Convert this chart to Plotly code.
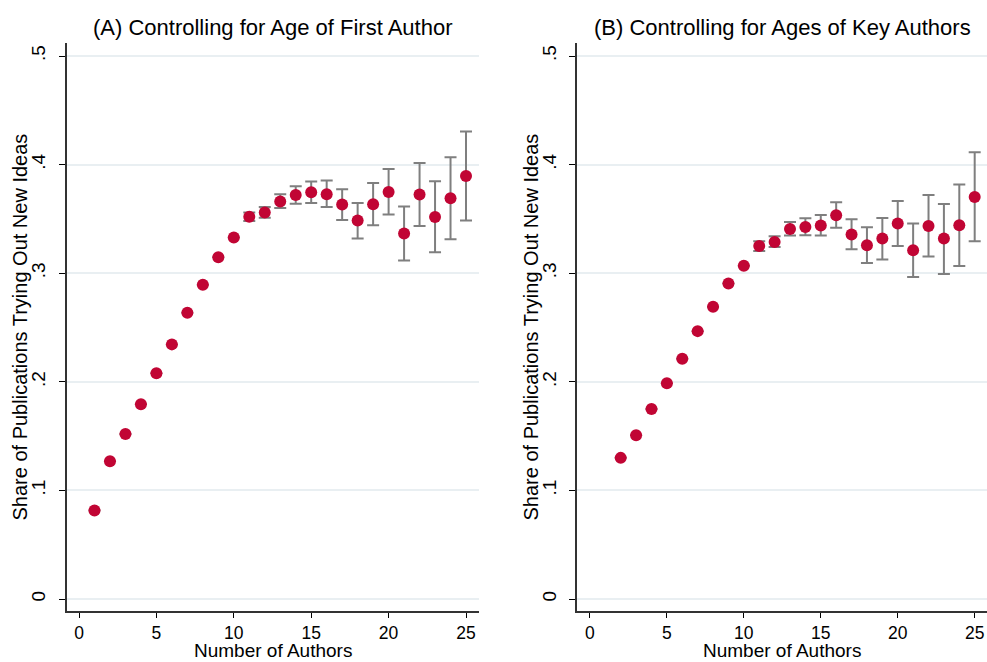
import plotly.graph_objects as go

# ---------------- data ----------------
authors_a = list(range(1, 26))
share_a = [0.0815, 0.1268, 0.152, 0.1794, 0.208, 0.2345, 0.2637, 0.2895, 0.3148, 0.333,
           0.352, 0.356, 0.366, 0.372, 0.3745, 0.3727, 0.3632, 0.3485, 0.3635, 0.3748,
           0.3365, 0.3724, 0.3518, 0.369, 0.3895]
ci_hi_a = [None] * 10 + [0.356, 0.361, 0.3727, 0.380, 0.3844, 0.3853, 0.3773, 0.3647, 0.3831, 0.396,
                         0.3614, 0.4015, 0.3846, 0.4067, 0.4306]
ci_lo_a = [None] * 10 + [0.348, 0.351, 0.360, 0.364, 0.3647, 0.361, 0.349, 0.3319, 0.3442, 0.354,
                         0.3117, 0.3435, 0.3193, 0.3313, 0.3485]

authors_b = list(range(2, 26))
share_b = [0.130, 0.1509, 0.1751, 0.1988, 0.2213, 0.2467, 0.2692, 0.2906, 0.307,
           0.3251, 0.3288, 0.3408, 0.3426, 0.3439, 0.3534, 0.3356, 0.3258, 0.3319, 0.3457,
           0.3212, 0.3435, 0.3319, 0.3442, 0.3702]
ci_hi_b = [None] * 9 + [0.3294, 0.334, 0.3472, 0.3506, 0.3537, 0.3653, 0.3497, 0.3423, 0.3509, 0.3665,
                        0.3457, 0.372, 0.3637, 0.3816, 0.4113]
ci_lo_b = [None] * 9 + [0.3205, 0.3242, 0.3347, 0.335, 0.3347, 0.342, 0.3221, 0.3095, 0.3126, 0.3251,
                        0.2966, 0.3153, 0.2994, 0.3067, 0.3294]

titles = ["(A) Controlling for Age of First Author", "(B) Controlling for Ages of Key Authors"]
x_title = "Number of Authors"
y_title = "Share of Publications Trying Out New Ideas"
y_tickvals = [0, 0.1, 0.2, 0.3, 0.4, 0.5]
y_ticktext = ["0", ".1", ".2", ".3", ".4", ".5"]
x_tickvals = [0, 5, 10, 15, 20, 25]

# ---------------- figure ----------------
FONT = "Liberation Sans, Arial, sans-serif"
MARKER = "#c10534"
ERR = "#7f7f7f"
GRID = "#e9eff2"

def err_arrays(y, hi, lo):
    plus = [None if h is None else round(h - v, 4) for v, h in zip(y, hi)]
    minus = [None if l is None else round(v - l, 4) for v, l in zip(y, lo)]
    return plus, minus

fig = go.Figure()
for i, (xs, ys, hi, lo) in enumerate([(authors_a, share_a, ci_hi_a, ci_lo_a),
                                     (authors_b, share_b, ci_hi_b, ci_lo_b)]):
    plus, minus = err_arrays(ys, hi, lo)
    fig.add_trace(go.Scatter(
        x=xs, y=ys, mode="markers",
        marker=dict(color=MARKER, size=12, line=dict(width=0)),
        error_y=dict(type="data", symmetric=False, array=plus, arrayminus=minus,
                     color=ERR, thickness=2, width=6),
        xaxis="x" if i == 0 else "x2", yaxis="y" if i == 0 else "y2",
        showlegend=False,
    ))

W, H = 987, 662
dom_x = [[66.7 / W, 479 / W], [577 / W, 1.0]]
dom_y = [1 - 611 / H, 1 - 43 / H]
x_ranges = [[-0.795, 25.84], [-0.84, 25.8]]
y_title_x = [19.5 / W, 530.5 / W]

common_x = dict(
    tickvals=x_tickvals, ticks="outside", ticklen=5, tickwidth=1.3, tickcolor="#000",
    showline=True, linecolor="#333", linewidth=1.5, showgrid=False, zeroline=False,
    tickfont=dict(family=FONT, size=17.5, color="#000"), ticklabelstandoff=0,
)
common_y = dict(
    range=[-0.011, 0.512], tickvals=y_tickvals, ticktext=y_ticktext, tickangle=-90,
    ticks="outside", ticklen=6, tickwidth=1.3, tickcolor="#000",
    showline=True, linecolor="#333", linewidth=1.5,
    showgrid=True, gridcolor=GRID, gridwidth=1.5, zeroline=False,
    tickfont=dict(family=FONT, size=19, color="#000"),
    ticklabelstandoff=6,
    domain=dom_y,
)

annotations = []
for k in range(2):
    annotations.append(dict(text=titles[k], x=sum(dom_x[k]) / 2, y=1 - 27 / H,
                            xref="paper", yref="paper", showarrow=False,
                            xanchor="center", yanchor="middle",
                            font=dict(family=FONT, size=22, color="#000")))
    annotations.append(dict(text=x_title, x=sum(dom_x[k]) / 2, y=0,
                            xref="paper", yref="paper", showarrow=False,
                            xanchor="center", yanchor="bottom", borderpad=0,
                            font=dict(family=FONT, size=19, color="#000")))
    annotations.append(dict(text=y_title, x=y_title_x[k], y=sum(dom_y) / 2,
                            xref="paper", yref="paper", showarrow=False, textangle=-90,
                            xanchor="center", yanchor="middle",
                            font=dict(family=FONT, size=20, color="#000")))

fig.update_layout(
    width=W, height=H, margin=dict(l=0, r=0, t=0, b=0),
    paper_bgcolor="white", plot_bgcolor="white",
    xaxis=dict(common_x, domain=dom_x[0], range=x_ranges[0], anchor="y"),
    xaxis2=dict(common_x, domain=dom_x[1], range=x_ranges[1], anchor="y2"),
    yaxis=dict(common_y, anchor="x"),
    yaxis2=dict(common_y, anchor="x2"),
    annotations=annotations,
)

fig.write_html("out.html")
